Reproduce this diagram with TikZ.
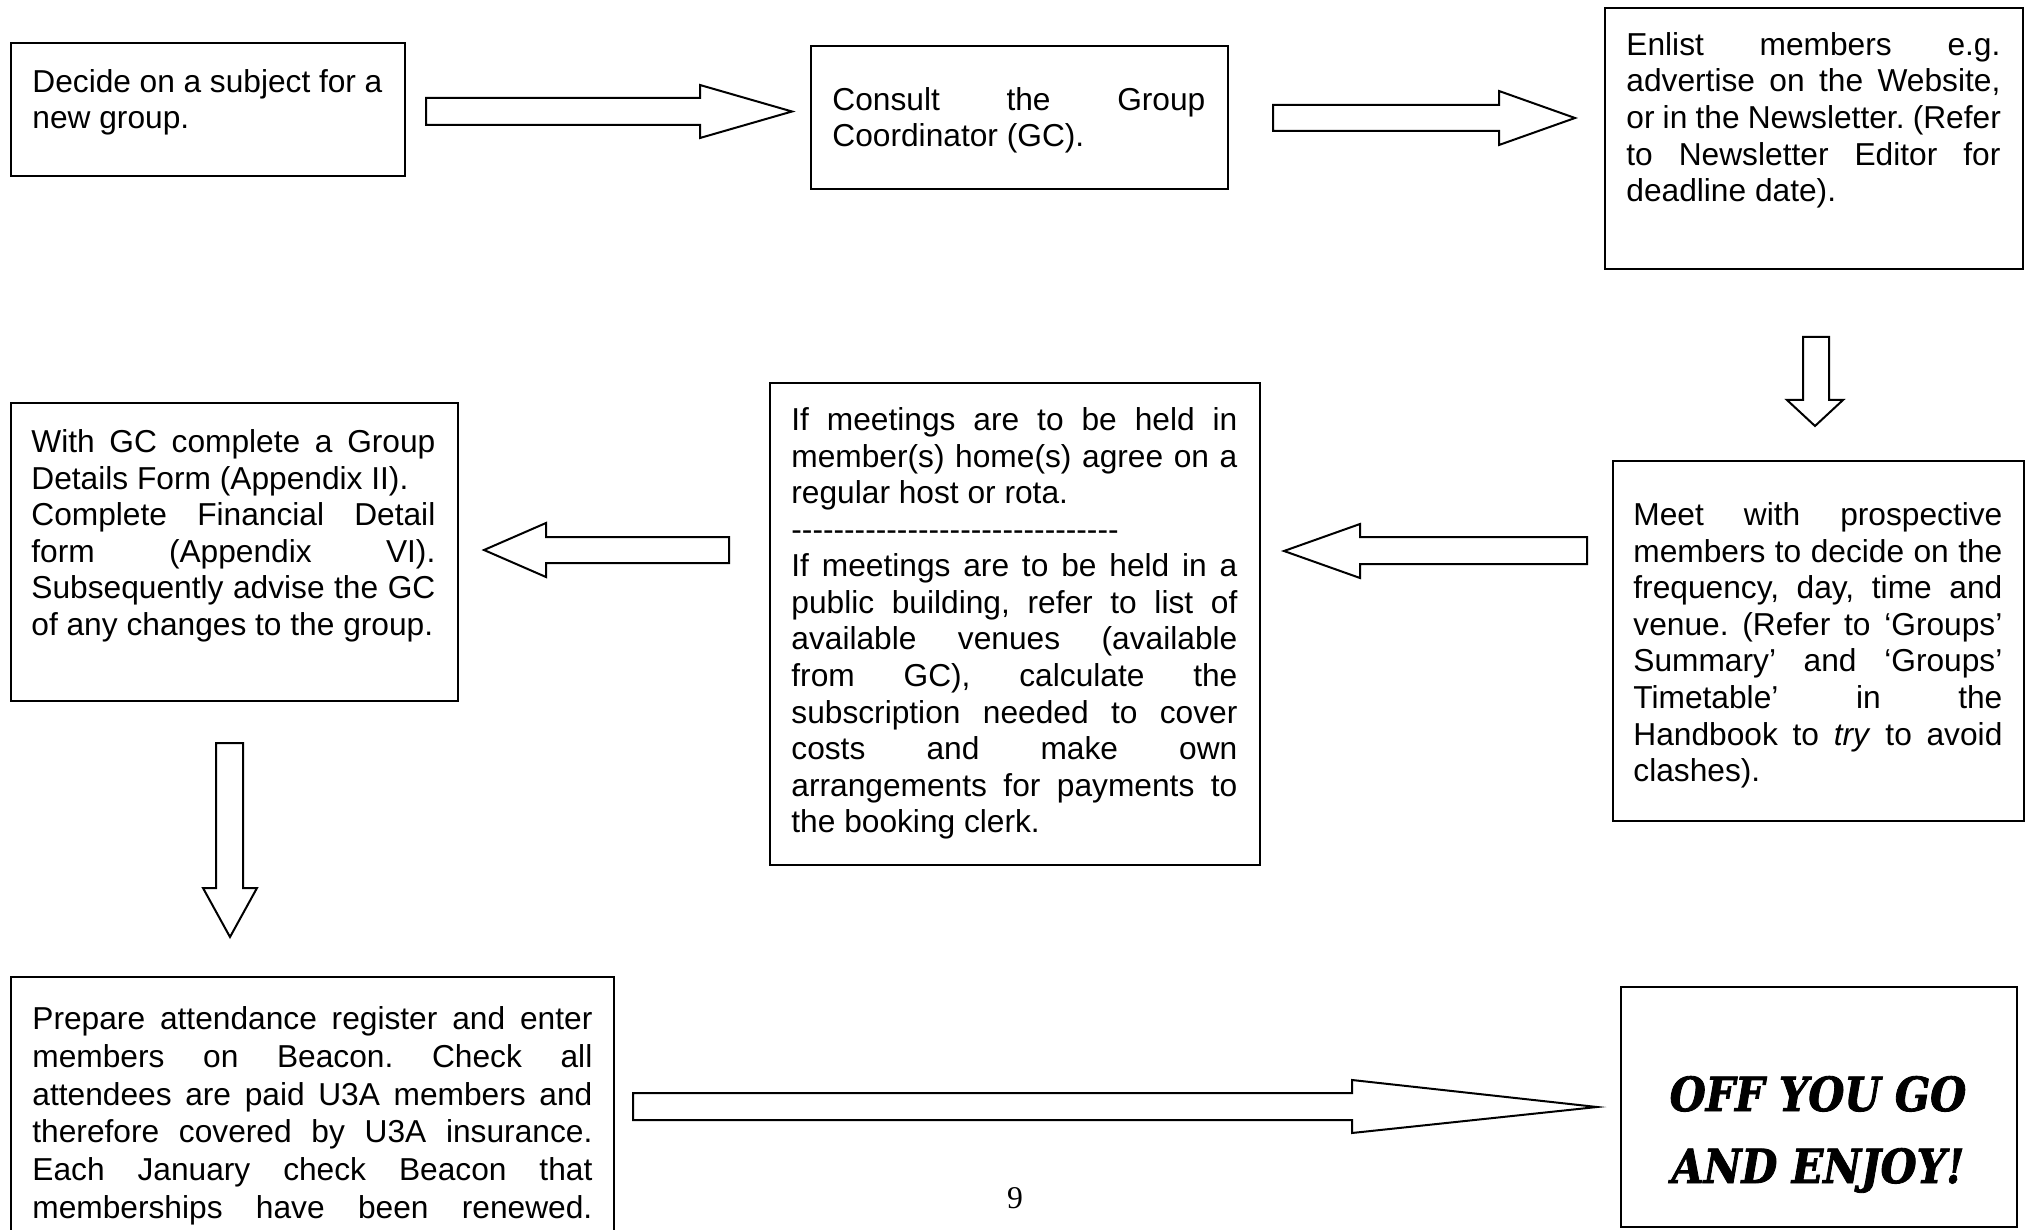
\documentclass[tikz,border=0pt]{standalone}
\usepackage{fontspec}
\setmainfont{Liberation Sans}
\newfontfamily\offfont[FakeStretch=0.88,FakeBold=1.8]{DejaVu Serif}
\newfontfamily\numfont{Liberation Serif}
\setlength\parindent{0pt}
\frenchspacing
\newcommand\jsp{\spaceskip=0.2778em plus 3em minus 0.02em\relax}
\newcommand\jl[1]{\leavevmode\hbox to\hsize{\jsp #1}\\}
\newcommand\fl[1]{\leavevmode\hbox to\hsize{\jsp\rule{0pt}{13pt}#1}\\}
\newcommand\jlast[1]{\leavevmode\hbox to\hsize{\jsp #1}}
\newcommand\pl[1]{\leavevmode\hbox{\spaceskip=0.2778em\relax #1}}
\newcommand\dashrow{\leavevmode\hbox{-{}-{}-{}-{}-{}-{}-{}-{}-{}-{}-{}-{}-{}-{}-{}-{}-{}-{}-{}-{}-{}-{}-{}-{}-{}-{}-{}-{}-{}-{}-}}
\tikzset{
  box/.style={draw, line width=1.1pt, fill=white, inner sep=0pt, rectangle},
  txt/.style={anchor=north west, inner sep=0pt, align=left,
    font=\fontsize{15.85pt}{18.3pt}\selectfont},
  blockarrow/.style={draw, line width=1pt, fill=white, line join=miter},
  offtxt/.style={anchor=base, inner sep=0pt,
    font=\offfont\bfseries\itshape\fontsize{23.5pt}{27pt}\selectfont},
}
\newcommand\boxat[5]{\node[box, minimum width=#3*0.5pt, minimum height=#4*0.5pt, anchor=north west] (#5) at (#1,#2) {};}
\begin{document}
\begin{tikzpicture}[x=0.5pt,y=-0.5pt]
\useasboundingbox (0,0) rectangle (2031,1230);
\clip (0,0) rectangle (2031,1230);
\fill[white] (0,0) rectangle (2031,1230);

% boxes
\boxat{10}{42}{394}{133}{b1}
\boxat{810}{45}{417}{143}{b2}
\boxat{1604}{7}{418}{261}{b3}
\boxat{1612}{460}{411}{360}{b4}
\boxat{769}{382}{490}{482}{b5}
\boxat{10}{402}{447}{298}{b6}
\boxat{10}{976}{603}{300}{b7}
\boxat{1620}{986}{396}{240}{b8}

% texts
\node[txt, text width=175pt] (t1) at (32,66) {%
\fl{Decide on a subject for a}\pl{new group.}};

\node[txt, text width=186.5pt] (t2) at (832,84) {%
\fl{Consult the Group}\pl{Coordinator (GC).}};

\node[txt, text width=187pt] (t3) at (1626,29) {%
\fl{Enlist members e.g.}\jl{advertise on the Website,}\jl{or in the Newsletter. (Refer}\jl{to Newsletter Editor for}\pl{deadline date).}};

\node[txt, text width=184.5pt] (t4) at (1633,499) {%
\fl{Meet with prospective}\jl{members to decide on the}\jl{frequency, day, time and}\jl{venue. (Refer to ‘Groups’}\jl{Summary’ and ‘Groups’}\jl{Timetable’ in the}\jl{Handbook to \textit{try} to avoid}\pl{clashes).}};

\node[txt, text width=223pt] (t5) at (791,404) {%
\fl{If meetings are to be held in}\jl{member(s) home(s) agree on a}\pl{regular host or rota.}\\
\dashrow\\
\jl{If meetings are to be held in a}\jl{public building, refer to list of}\jl{available venues (available}\jl{from GC), calculate the}\jl{subscription needed to cover}\jl{costs and make own}\jl{arrangements for payments to}\pl{the booking clerk.}};

\node[txt, text width=202pt] (t6) at (31,426) {%
\fl{With GC complete a Group}\pl{Details Form (Appendix II).}\\
\jl{Complete Financial Detail}\jl{form (Appendix VI).}\jl{Subsequently advise the GC}\pl{of any changes to the group.}};

\node[txt, text width=280pt, font=\fontsize{15.85pt}{18.9pt}\selectfont] (t7) at (32,1003) {%
\fl{Prepare attendance register and enter}\jl{members on Beacon. Check all}\jl{attendees are paid U3A members and}\jl{therefore covered by U3A insurance.}\jl{Each January check Beacon that}\jlast{memberships have been renewed.}};

\node[offtxt] (t8a) at (1818,1111) {OFF YOU GO};
\node[offtxt] (t8b) at (1818,1183) {AND ENJOY!};

\node[anchor=base, inner sep=0pt, font=\numfont\fontsize{15.85pt}{18pt}\selectfont] (pg) at (1015,1208) {9};

% block arrows
\draw[blockarrow] (426,98) -- (700,98) -- (700,85) -- (792,111.5) -- (700,138) -- (700,125) -- (426,125) -- cycle;
\draw[blockarrow] (1273,105) -- (1499,105) -- (1499,91) -- (1575,118) -- (1499,145) -- (1499,131) -- (1273,131) -- cycle;
\draw[blockarrow] (1803,337) -- (1803,400) -- (1787,400) -- (1815,426) -- (1843,400) -- (1829,400) -- (1829,337) -- cycle;
\draw[blockarrow] (1587,537) -- (1360,537) -- (1360,524) -- (1284,551) -- (1360,578) -- (1360,564) -- (1587,564) -- cycle;
\draw[blockarrow] (729,537) -- (546,537) -- (546,523) -- (484,550) -- (546,577) -- (546,563) -- (729,563) -- cycle;
\draw[blockarrow] (216,743) -- (216,888) -- (203,888) -- (230,937) -- (257,888) -- (243,888) -- (243,743) -- cycle;
\draw[blockarrow] (633,1093) -- (1352,1093) -- (1352,1080) -- (1597,1107) -- (1352,1133) -- (1352,1120) -- (633,1120) -- cycle;
\end{tikzpicture}
\end{document}
